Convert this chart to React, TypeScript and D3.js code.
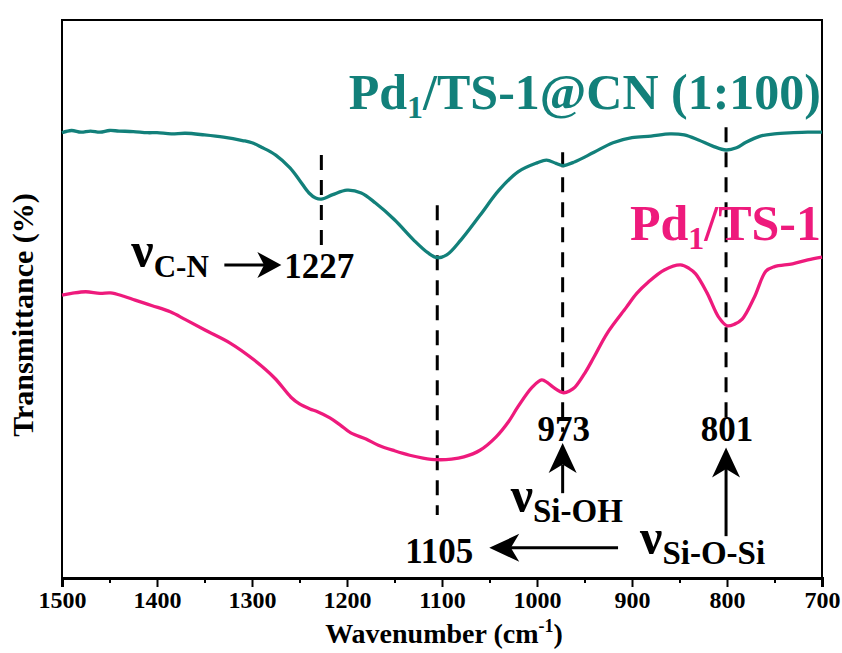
import React, { useRef, useEffect } from 'react';
import * as d3 from 'd3';

// FTIR spectra (wavenumber in cm-1, transmittance in a.u.)
const cnSpectrum: [number, number][] = [
  [1500, 79.8], [1490, 80.2], [1480, 79.9], [1470, 80.1], [1460, 79.9], [1450, 80.2],
  [1440, 80.1], [1425, 80.0], [1410, 79.8], [1400, 79.8], [1385, 79.6], [1370, 79.7],
  [1350, 79.4], [1330, 79.0], [1310, 78.4], [1300, 78.0], [1290, 77.2], [1275, 75.8],
  [1260, 73.5], [1250, 71.3], [1240, 69.0], [1233, 68.1], [1227, 67.9], [1215, 68.7],
  [1200, 69.5], [1185, 69.0], [1170, 67.2], [1150, 64.2], [1130, 60.6], [1115, 58.3],
  [1105, 57.4], [1095, 57.9], [1080, 60.6], [1060, 65.0], [1040, 69.5], [1020, 72.8],
  [1000, 74.4], [990, 74.9], [980, 74.3], [973, 73.9], [960, 74.6], [940, 76.3],
  [920, 78.0], [900, 78.9], [880, 79.2], [860, 79.6], [845, 79.4], [830, 78.5],
  [815, 77.4], [801, 76.7], [790, 77.1], [780, 78.1], [765, 79.2], [750, 79.6],
  [730, 79.8], [715, 79.9], [700, 79.9]
];

const ts1Spectrum: [number, number][] = [
  [1500, 50.7], [1490, 51.0], [1475, 51.3], [1460, 51.0], [1449, 51.1], [1435, 50.5],
  [1423, 49.8], [1405, 48.8], [1386, 47.7], [1370, 46.3], [1349, 44.4], [1323, 42.1],
  [1298, 39.1], [1276, 35.8], [1259, 32.4], [1250, 31.2], [1239, 30.3], [1231, 29.8],
  [1218, 28.7], [1207, 27.4], [1196, 26.0], [1180, 24.9], [1167, 23.8], [1150, 22.8],
  [1134, 22.0], [1120, 21.5], [1105, 21.2], [1090, 21.3], [1077, 21.7], [1060, 22.9],
  [1043, 25.3], [1030, 28.0], [1020, 30.7], [1005, 34.2], [995, 35.5], [989, 35.0],
  [983, 34.2], [972, 33.2], [965, 33.6], [960, 34.2], [949, 36.9], [940, 39.6],
  [926, 43.9], [906, 48.5], [895, 51.0], [883, 53.0], [866, 55.2], [849, 56.1],
  [840, 55.5], [833, 54.5], [821, 51.1], [809, 46.8], [800, 45.2], [792, 45.5],
  [784, 46.4], [771, 50.4], [759, 55.0], [750, 55.8], [731, 56.3], [715, 57.0],
  [700, 57.5]
];

const xTicks = [1500, 1400, 1300, 1200, 1100, 1000, 900, 800, 700];
const xMinorTicks = [1450, 1350, 1250, 1150, 1050, 950, 850, 750];

// dashed peak markers: wavenumber, top and bottom in transmittance units
const peakWavenumber = [1227, 1105, 973, 801];
const peakLabels = ['1227', '1105', '973', '801'];
const peakDashTop = [75.8, 66.8, 76.3, 80.8];
const peakDashBottom = [57.9, 11.3, 26.2, 28.7];

const seriesNames = ['Pd', 'Pd'];
const seriesSuffix = ['/TS-1@CN (1:100)', '/TS-1'];
const seriesColors = ['#12807a', '#ee1a7c'];

const FONT = "'Liberation Serif', 'Times New Roman', serif";

const App = () => {
  const svgRef = useRef<SVGSVGElement>(null);

  useEffect(() => {
    const svg = d3.select(svgRef.current);
    svg.selectAll('*').remove();

    const x = d3.scaleLinear().domain([1500, 700]).range([62, 822]);
    const y = d3.scaleLinear().domain([0, 100]).range([578, 20]);

    // frame
    svg.append('rect')
      .attr('x', x(1500)).attr('y', y(100))
      .attr('width', x(700) - x(1500)).attr('height', y(0) - y(100))
      .attr('fill', 'none').attr('stroke', '#000').attr('stroke-width', 2);

    // x axis (ticks outward)
    const gx = svg.append('g').attr('transform', `translate(0,${y(0)})`);
    gx.call(d3.axisBottom(x).tickValues(xTicks).tickSize(9).tickPadding(4).tickFormat(d3.format('d')));
    gx.select('.domain').attr('stroke-width', 3);
    gx.selectAll('.tick line').attr('stroke-width', 2);
    gx.selectAll('.tick text')
      .attr('font-family', FONT).attr('font-weight', 'bold').attr('font-size', 24).attr('fill', '#000');

    const gm = svg.append('g').attr('transform', `translate(0,${y(0)})`);
    gm.call(d3.axisBottom(x).tickValues(xMinorTicks).tickSize(5).tickFormat(() => ''));
    gm.select('.domain').remove();
    gm.selectAll('.tick line').attr('stroke-width', 2);

    // axis titles
    const xt = svg.append('text')
      .attr('x', (x(1500) + x(700)) / 2 + 2).attr('y', 643)
      .attr('text-anchor', 'middle')
      .attr('font-family', FONT).attr('font-weight', 'bold').attr('font-size', 28);
    xt.append('tspan').text('Wavenumber (cm');
    xt.append('tspan').attr('font-size', 18).attr('dy', -11).text('-1');
    xt.append('tspan').attr('dy', 11).text(')');

    svg.append('text')
      .attr('transform', `translate(33,${(y(0) + y(100)) / 2 + 16}) rotate(-90)`)
      .attr('text-anchor', 'middle')
      .attr('font-family', FONT).attr('font-weight', 'bold').attr('font-size', 30)
      .text('Transmittance (%)');

    // peak dashed lines
    peakWavenumber.forEach((wn, i) => {
      svg.append('line')
        .attr('x1', x(wn)).attr('x2', x(wn))
        .attr('y1', y(peakDashTop[i])).attr('y2', y(peakDashBottom[i]))
        .attr('stroke', '#000').attr('stroke-width', 3)
        .attr('stroke-dasharray', '15,10');
    });

    // spectra
    const line = d3.line<[number, number]>()
      .x(d => x(d[0])).y(d => y(d[1]))
      .curve(d3.curveCatmullRom.alpha(0.5));

    [cnSpectrum, ts1Spectrum].forEach((s, i) => {
      svg.append('path')
        .datum(s)
        .attr('d', line)
        .attr('fill', 'none')
        .attr('stroke', seriesColors[i])
        .attr('stroke-width', 3.3);
    });

    // series labels
    const labelY = [y(84.1), y(60.6)];
    seriesNames.forEach((n, i) => {
      const t = svg.append('text')
        .attr('x', x(700) - 1).attr('y', labelY[i])
        .attr('text-anchor', 'end')
        .attr('font-family', FONT).attr('font-weight', 'bold').attr('font-size', 50)
        .attr('fill', seriesColors[i]);
      t.append('tspan').text(n);
      t.append('tspan').attr('font-size', 32).attr('dy', 9).text('1');
      t.append('tspan').attr('dy', -9).text(seriesSuffix[i]);
    });

    // arrows with Origin style heads
    const arrow = (x1: number, y1: number, x2: number, y2: number, len = 28, wid = 28) => {
      const ang = Math.atan2(y2 - y1, x2 - x1);
      const ux = Math.cos(ang), uy = Math.sin(ang);
      const px = -uy, py = ux;
      const bx = x2 - ux * len, by = y2 - uy * len;
      const nx = x2 - ux * len * 0.72, ny = y2 - uy * len * 0.72;
      svg.append('line')
        .attr('x1', x1).attr('y1', y1).attr('x2', nx).attr('y2', ny)
        .attr('stroke', '#000').attr('stroke-width', 3);
      svg.append('path')
        .attr('d', `M${x2},${y2}L${bx + px * wid / 2},${by + py * wid / 2}L${nx},${ny}L${bx - px * wid / 2},${by - py * wid / 2}Z`)
        .attr('fill', '#000');
    };

    const nuLabel = (xs: number, ys: number, sub: string, subSize = 33) => {
      const t = svg.append('text')
        .attr('x', xs).attr('y', ys)
        .attr('font-family', FONT).attr('font-weight', 'bold').attr('font-size', 50);
      t.append('tspan').text('ν');
      t.append('tspan').attr('font-size', subSize).attr('dy', 10).text(sub);
    };

    const numLabel = (xs: number, ys: number, s: string, anchor = 'middle') => {
      svg.append('text')
        .attr('x', xs).attr('y', ys)
        .attr('text-anchor', anchor)
        .attr('font-family', FONT).attr('font-weight', 'bold').attr('font-size', 35)
        .text(s);
    };

    // C-N
    nuLabel(x(1227) - 190, y(55.7), 'C-N', 31);
    arrow(x(1227) - 97, y(56.1), x(1227) - 40, y(56.1), 24, 26);
    numLabel(x(1227) - 37, y(53.8), peakLabels[0], 'start');

    // 973 / Si-OH
    numLabel(x(973) + 1, y(24.6), peakLabels[2]);
    arrow(x(973), y(15.2), x(973), y(24.2), 30, 28);
    nuLabel(x(973) - 52, y(11.8), 'Si-OH');

    // 801 / Si-O-Si
    numLabel(x(801) + 1, y(24.6), peakLabels[3]);
    arrow(x(801), y(7.5), x(801), y(23.4), 30, 28);
    nuLabel(x(801) - 86, y(4.3), 'Si-O-Si');

    // 1105
    arrow(x(801) - 108, y(5.4), x(1105) + 52, y(5.4), 30, 28);
    numLabel(x(1105) + 2, y(2.7), peakLabels[1]);
  }, []);

  return (
    <svg
      ref={svgRef}
      width={842}
      height={653}
      style={{ position: 'absolute', left: 0, top: 0, background: '#fff' }}
    />
  );
};

export default App;
